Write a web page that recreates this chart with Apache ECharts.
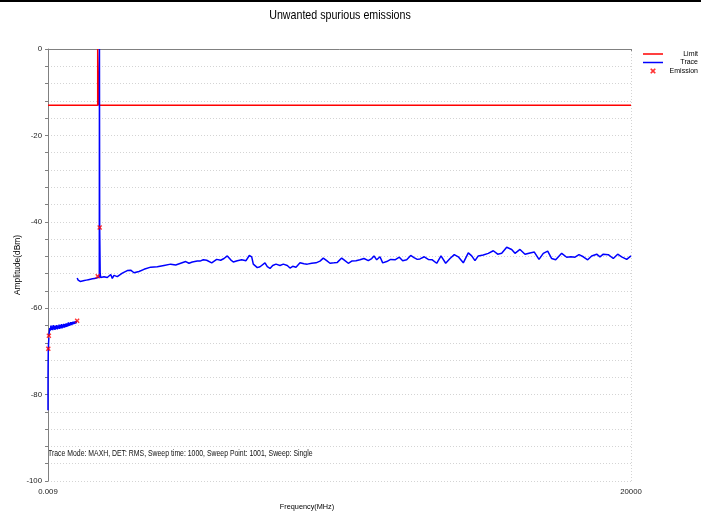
<!DOCTYPE html>
<html>
<head>
<meta charset="utf-8">
<script src="https://cdn.jsdelivr.net/npm/echarts@6/dist/echarts.min.js"></script>
<style>
html,body{margin:0;padding:0;background:#fff;}
#chart{width:701px;height:514px;}
</style>
</head>
<body>
<div id="chart"></div>
<script>
// ---- data (frequency MHz, level dBm) ----
const xTickValues = [0.009, 20000];
const yLabelValues = [0, -20, -40, -60, -80, -100];

const limitLine = [[0.009,-13],[1705,-13],[1705,0],[1750,0],[1750,-13],[20000,-13]];

const traceBand1 = [[0.009,-83.6],[0.15,-79.5],[1,-76],[3,-73.5],[10,-69.6],[20,-68],[30,-66.8]];

const traceBand2 = [[30,-66.4],[40,-65.8],[60,-64.6],[80,-65.2],[100,-64.0],[120,-65.0],[140,-64.2],[160,-65.1],[180,-63.9],[200,-64.9],[220,-64.1],[240,-65.0],[260,-64.0],[280,-64.8],[300,-63.9],[320,-64.9],[340,-64.1],[360,-64.7],[380,-63.8],[400,-64.8],[420,-63.9],[440,-64.6],[460,-63.7],[480,-64.7],[500,-63.8],[520,-64.5],[540,-63.6],[560,-64.5],[580,-63.7],[600,-64.4],[620,-63.5],[640,-64.3],[660,-63.5],[680,-64.2],[700,-63.3],[720,-64.1],[740,-63.4],[760,-64.0],[780,-63.2],[800,-63.9],[820,-63.2],[840,-63.8],[860,-63.1],[880,-63.7],[900,-63.1],[920,-63.6],[940,-63.0],[960,-63.5],[980,-62.9],[1000,-62.9]];

const traceBand3 = [[1000,-53.0],[1035,-53.5],[1070,-53.3],[1105,-53.8],[1140,-53.5],[1175,-53.7],[1210,-53.3],[1245,-53.6],[1280,-53.2],[1315,-53.5],[1350,-53.1],[1385,-53.4],[1420,-53.0],[1455,-53.3],[1490,-52.9],[1525,-53.2],[1560,-52.8],[1595,-53.1],[1630,-52.7],[1665,-53.0],[1705,-52.6],[1760,-52.8],
[1765,0],[1773,-41.3],[1790,-52.0],[1808,-52.9],[1921,-52.7],[2034,-52.9],[2151,-52.2],[2206,-53.1],[2264,-52.4],[2377,-52.7],[2549,-51.9],[2720,-51.3],[2837,-51.2],[2950,-51.8],[3122,-51.5],[3293,-51.0],[3523,-50.5],[3750,-50.4],[3979,-50.1],[4209,-49.8],[4381,-50.0],[4552,-49.6],[4724,-49.2],[4837,-49.6],[4950,-49.3],[5122,-49.1],[5214,-49.1],
[5328,-48.8],[5444,-48.9],[5616,-49.5],[5787,-48.7],[5924,-48.9],[6038,-48.5],[6151,-47.9],[6268,-48.8],[6357,-49.3],[6494,-49.0],[6645,-48.8],[6793,-49.0],[6906,-47.8],[6988,-48.1],[7043,-49.8],[7180,-50.6],[7273,-50.4],[7444,-49.5],[7523,-50.4],[7616,-50.8],[7709,-50.1],[7821,-49.8],[7959,-50.1],[8072,-49.8],[8209,-50.1],[8302,-50.7],[8394,-50.3],[8508,-50.5],[8645,-49.5],[8782,-49.7],[8895,-49.8],[9046,-49.6],[9194,-49.5],[9331,-49.1],[9444,-48.4],[9561,-49.0],[9674,-49.6],[9811,-49.5],[9925,-49.4],[10075,-48.4],[10188,-49.0],[10302,-49.6],[10419,-49.1],[10566,-49.0],[10703,-48.8],[10840,-48.5],[10988,-49.0],[11105,-48.5],[11183,-47.9],[11276,-48.8],[11389,-48.1],[11482,-49.5],[11619,-49.2],[11756,-48.7],[11904,-48.8],[12052,-48.2],[12168,-49.0],[12305,-48.8],[12442,-47.8],[12556,-48.3],[12669,-48.7],
[12761,-48.6],[12909,-48.1],[13046,-48.7],[13183,-48.8],[13334,-49.6],[13482,-47.9],[13643,-49.6],[13791,-48.5],[13938,-47.6],[14075,-48.1],[14247,-49.5],[14418,-47.2],[14535,-47.9],[14648,-49.0],[14761,-47.9],[14933,-47.7],[15104,-47.3],[15276,-46.7],[15427,-47.5],[15564,-47.3],[15736,-45.9],[15907,-46.4],[16020,-47.3],[16192,-46.4],[16363,-47.5],[16535,-47.2],[16683,-47.0],[16844,-48.7],[16991,-47.3],[17142,-46.8],[17279,-48.5],[17416,-48.8],[17622,-47.3],[17794,-48.2],[17941,-48.1],[18079,-48.2],[18216,-47.6],[18363,-48.1],[18514,-48.8],[18651,-47.9],[18823,-47.5],[18936,-48.1],[19049,-47.5],[19221,-47.6],[19392,-48.5],[19543,-47.5],[19680,-48.1],[19852,-48.7],[20000,-47.9]];

const emissionPoints = [[10,-69.4],[30,-66.4],[1000,-62.9],[1705,-52.6],[1773,-41.3]];

const FONT = '"Liberation Sans",Arial,sans-serif';
const xMark = 'path://M0,2L2,0L5,3L8,0L10,2L7,5L10,8L8,10L5,7L2,10L0,8L3,5Z';
const xMarkLegend = 'path://M-2,-2M12,12M0,2L2,0L5,3L8,0L10,2L7,5L10,8L8,10L5,7L2,10L0,8L3,5Z';
const lineIcon = 'path://M0,0H20V1.5H0Z';

const traceStyle = {color:'#0000ff', width:1.5};
function traceSeries(d){
  return {name:'Trace', type:'line', data:d, symbol:'none', showSymbol:false, lineStyle:traceStyle, itemStyle:{color:'#0000ff'}, z:3, animation:false};
}

const chart = echarts.init(document.getElementById('chart'), null, {renderer:'canvas'});
chart.setOption({
  animation:false,
  backgroundColor:'#fff',
  legend:{orient:'vertical', left:643, top:50, padding:0, itemWidth:20, itemHeight:8, itemGap:0.5,
    formatter:'{t|{name}}',
    textStyle:{fontFamily:FONT, fontSize:7, color:'#000', lineHeight:8,
      rich:{t:{fontFamily:FONT, fontSize:7, color:'#000', width:30, align:'right', lineHeight:8}}},
    data:[{name:'Limit', icon:lineIcon},{name:'Trace', icon:lineIcon},{name:'Emission', icon:xMarkLegend}]},
  grid:{left:48, right:70, top:49, bottom:33, containLabel:false, outerBoundsMode:'none'},
  xAxis:{type:'value', min:0.009, max:20000,
    name:'Frequency(MHz)', nameLocation:'middle', nameGap:22, nameMoveOverlap:false,
    nameTextStyle:{fontFamily:FONT, fontSize:7.3, color:'#000', padding:[0,65,0,0]},
    axisLine:{show:true, lineStyle:{color:'#808080', width:1}},
    axisTick:{show:true, length:3, customValues:xTickValues, lineStyle:{color:'#808080'}},
    axisLabel:{customValues:xTickValues, fontFamily:FONT, fontSize:7.8, color:'#222', margin:7,
      formatter:function(v){return String(v);}},
    splitLine:{show:false}},
  yAxis:{type:'value', min:-100, max:0, interval:4,
    name:'Amplitude(dBm)', nameLocation:'middle', nameGap:26, nameRotate:90, nameMoveOverlap:false,
    nameTextStyle:{fontFamily:FONT, fontSize:8.4, color:'#000'},
    axisLine:{show:true, lineStyle:{color:'#808080', width:1}},
    axisTick:{show:true, length:3, lineStyle:{color:'#808080'}},
    axisLabel:{customValues:yLabelValues, fontFamily:FONT, fontSize:7.8, color:'#222', margin:6},
    splitLine:{show:true, lineStyle:{type:[1,2], color:'#d4d4d4', width:1}}},
  graphic:[
    {type:'rect', x:0, y:0, shape:{x:0,y:0,width:701,height:2}, style:{fill:'#000'}},
    {type:'text', x:340, y:15, scaleX:0.82, style:{text:'Unwanted spurious emissions',
      font:'13px '+FONT, fill:'#000', align:'center', verticalAlign:'middle'}},
    {type:'text', x:48, y:454, scaleX:0.81, style:{text:'Trace Mode: MAXH, DET: RMS, Sweep time: 1000, Sweep Point: 1001, Sweep: Single',
      font:'8.5px '+FONT, fill:'#111', align:'left', verticalAlign:'middle'}}
  ],
  series:[
    {name:'Limit', type:'line', data:limitLine, symbol:'none', showSymbol:false,
      lineStyle:{color:'#ff0000', width:1.5}, itemStyle:{color:'#ff0000'}, z:2,
      markLine:{silent:true, symbol:'none', label:{show:false},
        lineStyle:{color:'#d4d4d4', type:[1,2], width:1}, data:[{xAxis:20000}]}},
    traceSeries(traceBand1),
    traceSeries(traceBand2),
    traceSeries(traceBand3),
    {name:'Emission', type:'scatter', data:emissionPoints, symbol:xMark, symbolSize:5,
      itemStyle:{color:'#ff0000'}, z:5}
  ]
});
</script>
</body>
</html>
